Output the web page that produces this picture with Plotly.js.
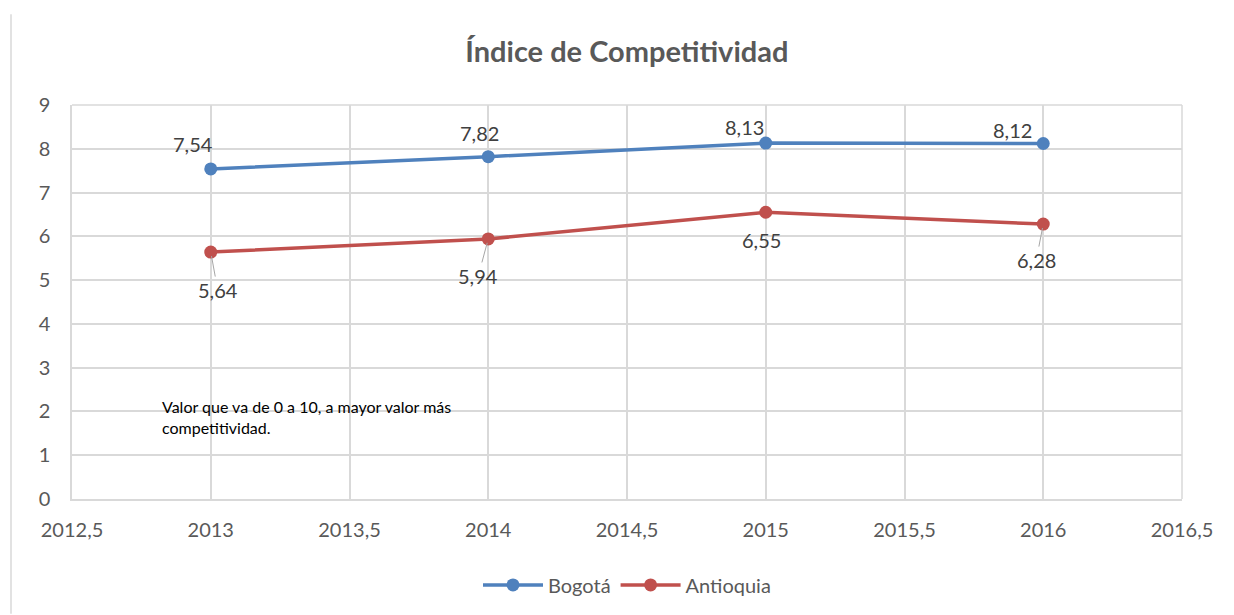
<!DOCTYPE html>
<html>
<head>
<meta charset="utf-8">
<script src="https://cdn.plot.ly/plotly-3.0.1.min.js"></script>
<style>html,body{margin:0;padding:0;background:#fff;}#chart{width:1234px;height:615px;}</style>
</head>
<body>
<div id="chart"></div>
<script>
const years = [2013, 2014, 2015, 2016];
const bogota = [7.54, 7.82, 8.13, 8.12];
const antioquia = [5.64, 5.94, 6.55, 6.28];
const seriesNames = ["Bogotá", "Antioquia"];
const titleText = "Índice de Competitividad";
const noteText = "Valor que va de 0 a 10, a mayor valor más<br>competitividad.";
const xTicks = [2012.5, 2013, 2013.5, 2014, 2014.5, 2015, 2015.5, 2016, 2016.5];
const xTickText = ["2012,5", "2013", "2013,5", "2014", "2014,5", "2015", "2015,5", "2016", "2016,5"];

const blue = "#4f81bd", red = "#c0504d";
const fam = "Lato, 'Open Sans', sans-serif";
const fmt = v => v.toFixed(2).replace(".", ",");

const bogOff = [[-18, -25], [-9, -24], [-21, -16], [-31, -14]];
const antOff = [[7, 38], [-10, 37], [-4, 28], [-7, 36]];
const antArrow = [true, true, false, true];

const annotations = [];
years.forEach((yr, i) => {
  annotations.push({x: yr, y: bogota[i], xref: "x", yref: "y", text: fmt(bogota[i]),
    showarrow: true, arrowwidth: 0.01, arrowcolor: "rgba(0,0,0,0)", ax: bogOff[i][0], ay: bogOff[i][1],
    font: {family: fam, size: 20, color: "#404040"}});
  annotations.push({x: yr, y: antioquia[i], xref: "x", yref: "y", text: fmt(antioquia[i]),
    showarrow: true, arrowhead: 0, arrowwidth: 1, standoff: 4,
    arrowcolor: antArrow[i] ? "#a6a6a6" : "rgba(0,0,0,0)", ax: antOff[i][0], ay: antOff[i][1],
    font: {family: fam, size: 20, color: "#404040"}});
});
annotations.push({xref: "paper", yref: "paper", x: (160 - 72) / 1110, y: (500 - 396) / 395,
  xanchor: "left", yanchor: "top", align: "left", showarrow: false, text: noteText,
  font: {family: fam, size: 16, color: "#000"}});

const traces = [
  {x: years, y: bogota, name: seriesNames[0], mode: "lines+markers", type: "scatter",
   line: {color: blue, width: 3.5}, marker: {color: blue, size: 13}},
  {x: years, y: antioquia, name: seriesNames[1], mode: "lines+markers", type: "scatter",
   line: {color: red, width: 3.5}, marker: {color: red, size: 13}}
];

const layout = {
  width: 1234, height: 615,
  margin: {l: 72, r: 52, t: 105, b: 115},
  paper_bgcolor: "#fff", plot_bgcolor: "#fff",
  font: {family: fam, color: "#595959"},
  title: {text: "<b>" + titleText + "</b>", x: 0.508, xanchor: "center", y: 0.915, yanchor: "middle",
    font: {family: fam, size: 29, color: "#595959"}},
  xaxis: {range: [2012.5, 2016.5], tickvals: xTicks, ticktext: xTickText, showgrid: true,
    gridcolor: "#d9d9d9", gridwidth: 1.5, zeroline: false, showline: true, linecolor: "#d9d9d9", linewidth: 1.5,
    ticks: "", ticklabelstandoff: 12, tickfont: {size: 20, color: "#595959"}, mirror: false},
  yaxis: {range: [0, 9], dtick: 1, showgrid: true, gridcolor: "#d9d9d9", gridwidth: 1.5, zeroline: false,
    showline: true, linecolor: "#d9d9d9", linewidth: 1.5, ticks: "", ticklabelstandoff: 16,
    tickfont: {size: 20, color: "#595959"}},
  showlegend: true,
  legend: {orientation: "h", x: 0.5, xanchor: "center", y: -0.215, yanchor: "middle",
    font: {size: 20, color: "#595959"}, itemwidth: 60},
  annotations: annotations,
  shapes: [
    {type: "line", xref: "paper", yref: "paper", x0: (11 - 72) / 1110, x1: (11 - 72) / 1110,
     y0: (500 - 615) / 395, y1: (500 - 14) / 395, line: {color: "#d9d9d9", width: 1.5}},
    {type: "line", xref: "paper", yref: "paper", x0: 1, x1: 1, y0: 0, y1: 1, line: {color: "#d9d9d9", width: 1.5}},
    {type: "line", xref: "paper", yref: "paper", x0: 0, x1: 1, y0: 1, y1: 1, line: {color: "#d9d9d9", width: 1.5}}
  ]
};

Plotly.newPlot("chart", traces, layout, {displayModeBar: false});
</script>
</body>
</html>
